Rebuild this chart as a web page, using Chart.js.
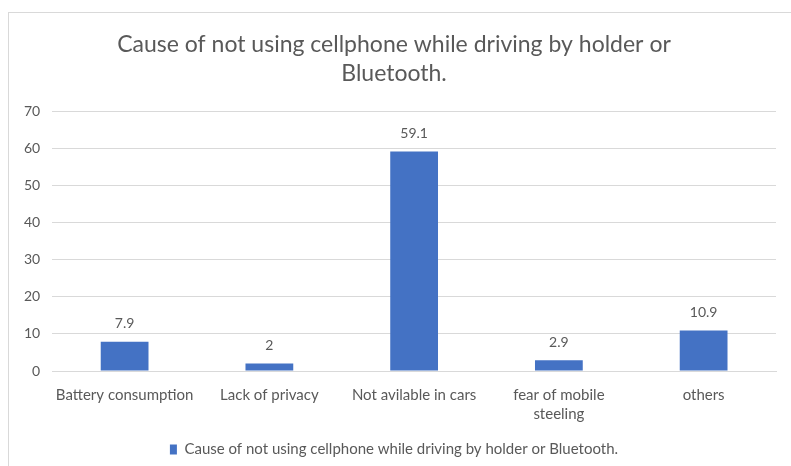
<!DOCTYPE html>
<html>
<head>
<meta charset="utf-8">
<script src="https://cdn.jsdelivr.net/npm/chart.js@4"></script>
<style>
  html, body { margin: 0; padding: 0; background: #fff; }
  #box {
    position: absolute; left: 8px; top: 12px;
    width: 800px; height: 470px;
    border: 1px solid #d9d9d9; box-sizing: border-box;
  }
  #wrap { position: absolute; left: 0; top: 0; width: 783px; height: 454px; }
</style>
</head>
<body>
<div id="box"><div id="wrap"><canvas id="myChart"></canvas></div></div>
<script>
var categories = ["Battery consumption", "Lack of privacy", "Not avilable in cars", ["fear of mobile", "steeling"], "others"];
var values = [7.9, 2, 59.1, 2.9, 10.9];
var seriesName = "Cause of not using cellphone while driving by holder or Bluetooth.";
var yTicks = [0, 10, 20, 30, 40, 50, 60, 70];

var grey = "#595959";
var fontFamily = "Lato, 'Open Sans', sans-serif";

// simple value labels above bars
var barLabels = {
  id: "barLabels",
  afterDatasetsDraw: function (chart) {
    var ctx = chart.ctx;
    var meta = chart.getDatasetMeta(0);
    ctx.save();
    ctx.fillStyle = grey;
    ctx.font = "14px " + fontFamily;
    ctx.textAlign = "center";
    ctx.textBaseline = "bottom";
    meta.data.forEach(function (bar, i) {
      ctx.fillText(String(values[i]), bar.x, bar.y - 11);
    });
    ctx.restore();
  }
};

var ctx = document.getElementById("myChart").getContext("2d");
var chart = new Chart(ctx, {
  type: "bar",
  data: {
    labels: categories,
    datasets: [
      {
        label: seriesName,
        backgroundColor: "#4472C4",
        borderWidth: 0,
        data: values,
        categoryPercentage: 1,
        barPercentage: 0.33
      }
    ]
  },
  options: {
    responsive: true,
    maintainAspectRatio: false,
    animation: false,
    layout: { padding: { left: 3, right: 16, top: 12, bottom: 0 } },
    plugins: {
      title: {
        display: true,
        text: ["Cause of not using cellphone while driving by holder or", "Bluetooth."],
        color: grey,
        font: { family: fontFamily, size: 23, weight: "normal", lineHeight: 1.22 },
        padding: { top: 6, bottom: 24 }
      },
      legend: {
        position: "bottom",
        labels: {
          color: grey,
          font: { family: fontFamily, size: 15 },
          boxWidth: 7,
          boxHeight: 10,
          padding: 12
        }
      },
      tooltip: { enabled: false }
    },
    scales: {
      x: {
        grid: { display: false },
        border: { color: "#d9d9d9" },
        ticks: { color: grey, font: { family: fontFamily, size: 15, lineHeight: 1.3 }, maxRotation: 0, padding: 6 }
      },
      y: {
        min: 0,
        max: 70,
        afterBuildTicks: function (axis) {
          axis.ticks = yTicks.map(function (v) { return { value: v }; });
        },
        grid: { color: "#d9d9d9", drawTicks: false },
        border: { display: false },
        ticks: { color: grey, font: { family: fontFamily, size: 14 }, padding: 12 }
      }
    }
  },
  plugins: [barLabels]
});
</script>
</body>
</html>
